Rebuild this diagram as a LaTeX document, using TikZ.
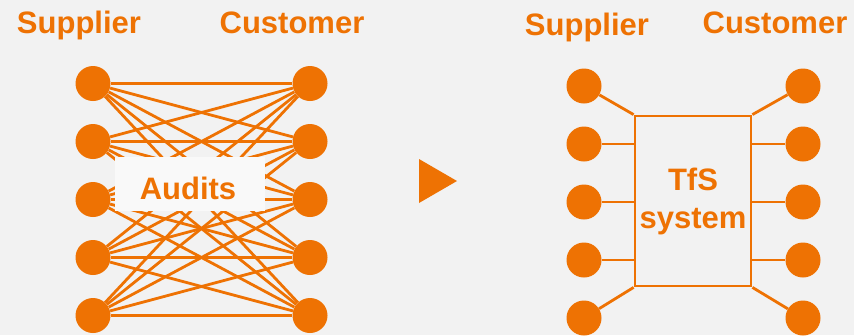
\documentclass[tikz,border=0pt]{standalone}
\usepackage{fontspec}
\setmainfont{Liberation Sans}
\usepackage{tikz}
\definecolor{tfsorange}{HTML}{EE7203}
\definecolor{sheet}{HTML}{F2F2F2}
\definecolor{paper}{HTML}{F9F9F9}

\begin{document}
\begin{tikzpicture}[x=1pt, y=1pt, node distance={58pt},
        dot/.style = {circle, fill=tfsorange, minimum size=35pt, inner sep=0pt},
        link/.style = {draw=tfsorange, line width=2.8pt},
        title/.style = {font=\fontsize{31}{38}\selectfont\bfseries, text=tfsorange, inner sep=0pt}]
            \fill[sheet] (0,0) rectangle (854,-335);
            \useasboundingbox (0,0) rectangle (854,-335);

            % before: every supplier audits every customer
            \node[title, anchor=base] (SupL) at (79,-33) {Supplier};
            \node[title, anchor=base] (CusL) at (292,-33) {Customer};

            \node[dot] (s1) at (93,-83.5) {};
            \node[dot] (s2) [below of=s1] {};
            \node[dot] (s3) [below of=s2] {};
            \node[dot] (s4) [below of=s3] {};
            \node[dot] (s5) [below of=s4] {};
            \node[dot] (c1) at (310,-83.5) {};
            \node[dot] (c2) [below of=c1] {};
            \node[dot] (c3) [below of=c2] {};
            \node[dot] (c4) [below of=c3] {};
            \node[dot] (c5) [below of=c4] {};

            \foreach \i in {1,...,5}
                \foreach \j in {1,...,5}
                    \path[link] (s\i) edge (c\j);

            \fill[paper] (115,-157) rectangle (265,-211);
            \node[title, anchor=base] (audits) at (188,-199) {Audits};

            % arrow
            \fill[tfsorange] (419,-159) -- (457,-181) -- (419,-203) -- cycle;

            % after: one shared system
            \node[title, anchor=base] (SupR) at (587,-35) {Supplier};
            \node[title, anchor=base] (CusR) at (775,-33) {Customer};

            \node[dot] (rs1) at (584,-86) {};
            \node[dot] (rs2) [below of=rs1] {};
            \node[dot] (rs3) [below of=rs2] {};
            \node[dot] (rs4) [below of=rs3] {};
            \node[dot] (rs5) [below of=rs4] {};
            \node[dot] (rc1) at (803,-86) {};
            \node[dot] (rc2) [below of=rc1] {};
            \node[dot] (rc3) [below of=rc2] {};
            \node[dot] (rc4) [below of=rc3] {};
            \node[dot] (rc5) [below of=rc4] {};

            \node[title, draw=tfsorange, line width=2.8pt, minimum width=116pt, minimum height=170pt,
                  align=center] (tfs) at (693,-201) {TfS\\system};

            \path[link] (rs1) edge (tfs.north west);
            \path[link] (rs2) edge (rs2 -| tfs.west);
            \path[link] (rs3) edge (rs3 -| tfs.west);
            \path[link] (rs4) edge (rs4 -| tfs.west);
            \path[link] (rs5) edge (tfs.south west);
            \path[link] (rc1) edge (tfs.north east);
            \path[link] (rc2) edge (rc2 -| tfs.east);
            \path[link] (rc3) edge (rc3 -| tfs.east);
            \path[link] (rc4) edge (rc4 -| tfs.east);
            \path[link] (rc5) edge (tfs.south east);
        \end{tikzpicture}
\end{document}
